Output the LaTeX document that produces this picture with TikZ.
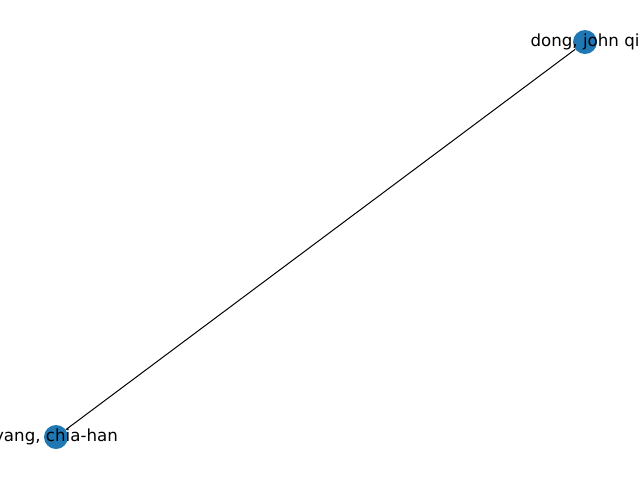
\documentclass[tikz,border=0pt]{standalone}
\usepackage{fontspec}
\setmainfont{DejaVu Sans}
\definecolor{nodeblue}{HTML}{1F77B4}

\begin{document}
\begin{tikzpicture}[x=0.75pt,y=-0.75pt,
	vertex/.style={circle, fill=nodeblue, minimum size=18pt, inner sep=0pt},
	name label/.style={font=\fontsize{12.5}{14}\selectfont, inner sep=0pt}]
			\useasboundingbox (0,0) rectangle (640,480);
			\clip (0,0) rectangle (640,480);
			\node[vertex] (dong) at (585,42) {};
			\node[vertex] (yang) at (56,437) {};
			\draw[line width=0.75pt] (yang) -- (dong);
			\node[name label] at (dong.center) {dong, john qi};
			\node[name label] at (yang.center) {yang, chia-han};
		\end{tikzpicture}
\end{document}
